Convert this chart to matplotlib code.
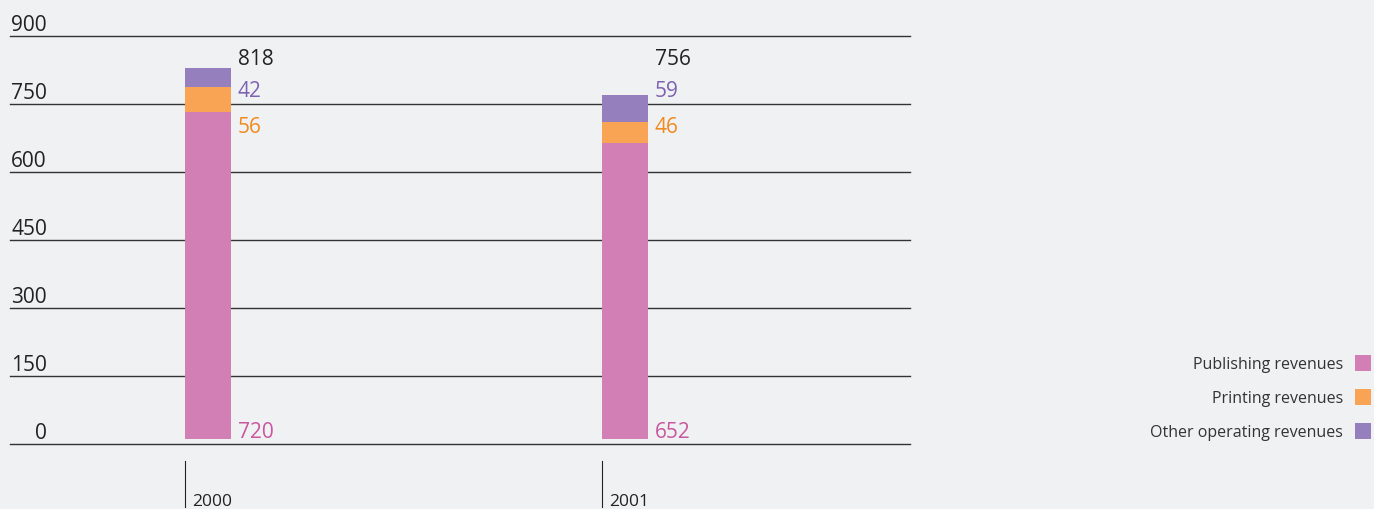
import matplotlib
matplotlib.use("Agg")
import matplotlib.pyplot as plt
from matplotlib.patches import Rectangle
from matplotlib.transforms import blended_transform_factory, offset_copy

# Revenue breakdown (EUR million)
years = ["2000", "2001"]
publishing = [720, 652]
printing = [56, 46]
other = [42, 59]
totals = [818, 756]
y_ticks = [0, 150, 300, 450, 600, 750, 900]

series_names = ["Publishing revenues", "Printing revenues", "Other operating revenues"]
bar_colors = ["#d17fb4", "#f9a354", "#957fbc"]
text_colors = ["#c9579f", "#f08a1e", "#7e62b2"]

BG = "#f0f1f3"
INK = "#222222"
plt.rcParams["font.family"] = ["Open Sans", "DejaVu Sans"]

fig = plt.figure(figsize=(13.74, 5.09), dpi=100, facecolor=BG)
ax = fig.add_axes([10 / 1374, 65 / 509, 900 / 1374, 408 / 509])
ax.set_facecolor(BG)
for s in ax.spines.values():
    s.set_visible(False)
ax.set_xticks([])
ax.set_yticks([])

base = 12          # bars sit slightly above the zero rule
width = 0.11
ax.set_xlim(-0.4748, 1.6835)
ax.set_ylim(0, 900)

# gridlines with labels sitting on top of them
for t in y_ticks:
    ax.axhline(t, color="#333333", lw=1.0, zorder=1, clip_on=False)
    ax.annotate(str(t), xy=(0, t), xycoords=("axes fraction", "data"),
                xytext=(37, 5), textcoords="offset pixels",
                ha="right", va="baseline", fontsize=15, color=INK)

x = list(range(len(years)))
b1 = [base] * len(years)
b2 = [base + p for p in publishing]
b3 = [base + p + q for p, q in zip(publishing, printing)]
ax.bar(x, publishing, width, bottom=b1, color=bar_colors[0], zorder=2)
ax.bar(x, printing, width, bottom=b2, color=bar_colors[1], zorder=2)
ax.bar(x, other, width, bottom=b3, color=bar_colors[2], zorder=2)

# value labels on fixed baselines to the right of each bar
label_rows = [(publishing, text_colors[0], 13),
              (printing, text_colors[1], 686),
              (other, text_colors[2], 765),
              (totals, INK, 836)]
for vals, col, ypos in label_rows:
    for xi, v in zip(x, vals):
        ax.annotate(str(v), xy=(xi + width / 2, ypos), xytext=(7, 0),
                    textcoords="offset pixels", ha="left", va="baseline",
                    fontsize=15, color=col, zorder=3)

# category ticks and year labels beneath the axis
tr = blended_transform_factory(ax.transData, fig.transFigure)
for xi, yr in zip(x, years):
    left = xi - width / 2
    ax.plot([left, left], [2 / 509, 48 / 509], transform=tr, color=INK,
            lw=0.8, clip_on=False)
    fig.text(left, 3 / 509, yr, fontsize=12.5, color=INK, ha="left", va="baseline",
             transform=offset_copy(tr, fig=fig, x=7, y=0, units="dots"))

# legend on the right: text then swatch
for i, (name, col) in enumerate(zip(series_names, bar_colors)):
    yc = (509 - (363 + 34 * i)) / 509
    fig.text(1343 / 1374, yc - 6 / 509, name, ha="right", va="baseline",
             fontsize=11.5, color="#333333")
    fig.patches.append(Rectangle((1355 / 1374, yc - 8 / 509), 16 / 1374, 16 / 509,
                                 transform=fig.transFigure, facecolor=col,
                                 edgecolor="none", figure=fig))

fig.savefig("out.png", dpi=100, facecolor=BG)
